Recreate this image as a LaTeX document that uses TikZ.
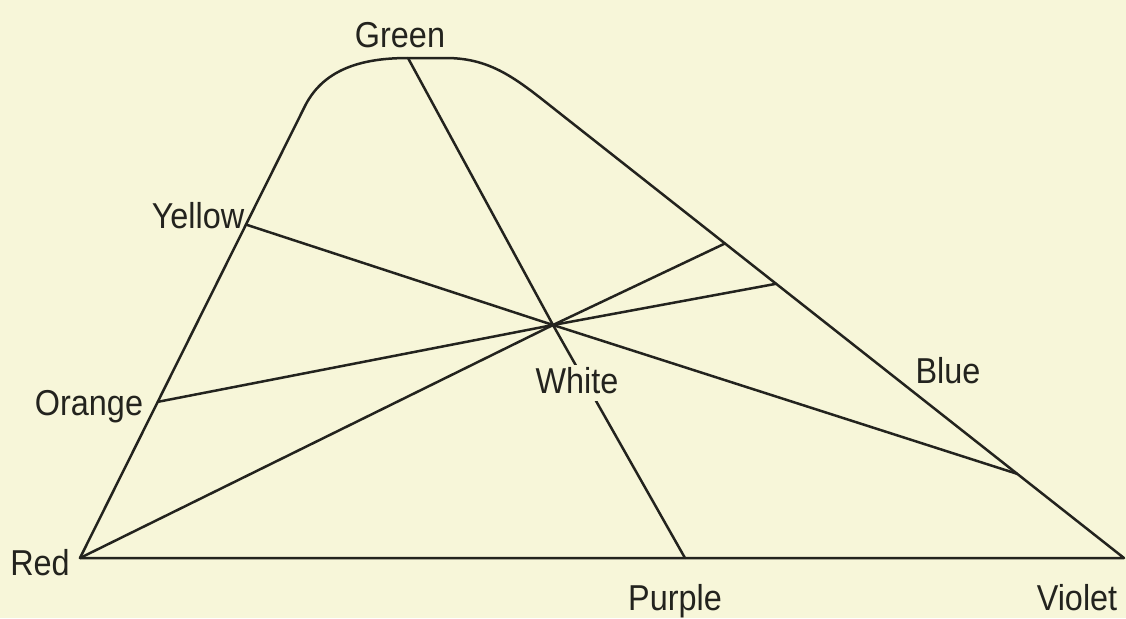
\documentclass[tikz,border=0pt]{standalone}
\usepackage{fontspec}
\setmainfont{Liberation Sans}[FakeStretch=0.9]
\usetikzlibrary{calc}

\definecolor{paper}{RGB}{247,246,217}
\definecolor{ink}{RGB}{35,35,30}

\begin{document}
\begin{tikzpicture}[
    x=0.5pt, y=-0.5pt,
    line width=1.25pt, draw=ink,
    lbl/.style={font=\fontsize{18}{20}\selectfont, text=ink, anchor=base, inner sep=1pt},
    ray/.style={draw=ink, line width=1.25pt, line cap=round},
]

    %==================== PAPER ====================
    \fill[paper] (0,0) rectangle (1126,618);
    \useasboundingbox (0,0) rectangle (1126,618);

    %==================== CORNERS OF THE LOCUS ====================
    \coordinate (red) at (80,558);
    \coordinate (violet) at (1124,558);
    \coordinate (lefttop) at (304,108);
    \coordinate (green) at (408,58);
    \coordinate (righttop) at (562,115);
    \coordinate (white) at (553,325);
    \coordinate (purple) at (685,558);

    % points on the two sides
    \coordinate (yellow) at ($(red)!0.741!(lefttop)$);
    \coordinate (orange) at ($(red)!0.347!(lefttop)$);
    \coordinate (blue1) at ($(righttop)!0.29!(violet)$);
    \coordinate (blue2) at ($(righttop)!0.381!(violet)$);
    \coordinate (blue3) at ($(righttop)!0.81!(violet)$);

    %==================== OUTLINE ====================
    \draw[ink, line join=round] (red) -- (lefttop)
        .. controls (322,70) and (360,58) .. (green)
        -- (446,58) .. controls (494,58) and (520,82) .. (righttop)
        -- (violet) -- cycle;

    %==================== LINES THROUGH WHITE ====================
    \foreach \p in {green, yellow, orange, red, blue1, blue2, blue3, purple}
        \draw[ray] (white) -- (\p);

    %==================== LABELS ====================
    \node[lbl] (lgreen) at (400,47) {Green};
    \node[lbl] (lyellow) at (198,228) {Yellow};
    \node[lbl] (lorange) at (89,415) {Orange};
    \node[lbl] (lred) at (40,575) {Red};
    \node[lbl, fill=paper, text depth=3pt] (lwhite) at (577,393) {White};
    \node[lbl] (lblue) at (948,383) {Blue};
    \node[lbl] (lpurple) at (675,610) {Purple};
    \node[lbl] (lviolet) at (1077,610) {Violet};

\end{tikzpicture}
\end{document}
